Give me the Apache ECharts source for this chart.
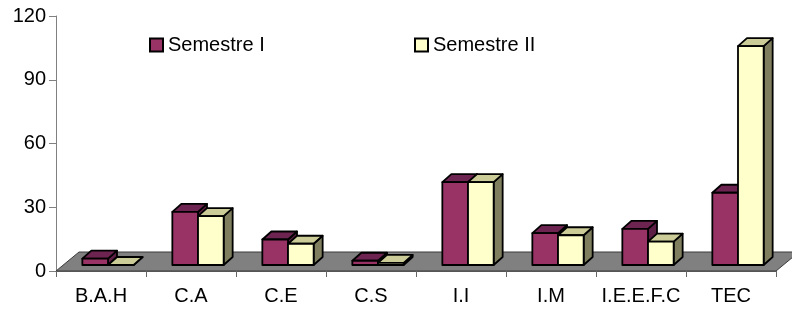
<!DOCTYPE html>
<html>
<head>
<meta charset="utf-8">
<script src="https://cdn.jsdelivr.net/npm/echarts@6/dist/echarts.min.js"></script>
<style>
    html, body { margin: 0; padding: 0; background: #fff; }
    #J_chart { width: 792px; height: 311px; }
</style>
</head>
<body>
<div id="J_chart"></div>
<script>
const categories = ['B.A.H', 'C.A', 'C.E', 'C.S', 'I.I', 'I.M', 'I.E.E.F.C', 'TEC'];
const semestre1 = [3, 25, 12, 2, 39, 15, 17, 34];
const semestre2 = [0, 23, 10, 1, 39, 14, 11, 103];
const yTicks = [0, 30, 60, 90, 120];

const FONT = '"Liberation Sans", Arial, sans-serif';
// decalage "3D" des barres et du plancher (px)
const SHIFT_X = 7, SHIFT_Y = -6;
const DEPTH_X = 9, DEPTH_Y = -8;
const FLOOR_X = 23, FLOOR_Y = -19;

function toData(arr) {
    return arr.map((v, i) => [i, v]);
}

// barre en 3D : face, dessus, cote
function barRenderer(slot, face, top, side) {
    return function (params, api) {
        let idx = api.value(0);
        let base = api.coord([idx, 0]);
        let peak = api.coord([idx, api.value(1)]);
        let band = api.size([1, 0])[0];
        let w = band * 0.285;
        let x0 = base[0] - w + slot * w + SHIFT_X;
        let x1 = x0 + w;
        let yb = base[1] + SHIFT_Y;
        let yt = peak[1] + SHIFT_Y;
        let line = {stroke: '#000', lineWidth: 1.8, lineJoin: 'round'};
        return {
            type: 'group',
            children: [{
                type: 'polygon',
                shape: {points: [[x1, yb], [x1 + DEPTH_X, yb + DEPTH_Y], [x1 + DEPTH_X, yt + DEPTH_Y], [x1, yt]]},
                style: Object.assign({fill: side}, line)
            }, {
                type: 'polygon',
                shape: {points: [[x0, yt], [x1, yt], [x1 + DEPTH_X, yt + DEPTH_Y], [x0 + DEPTH_X, yt + DEPTH_Y]]},
                style: Object.assign({fill: top}, line)
            }, {
                type: 'rect',
                shape: {x: x0, y: yt, width: w, height: yb - yt},
                style: Object.assign({fill: face}, line)
            }]
        };
    };
}

function floorRenderer(params, api) {
    let cs = params.coordSys;
    let y0 = cs.y + cs.height;
    let xa = cs.x, xb = cs.x + cs.width;
    return {
        type: 'polygon',
        shape: {points: [[xa, y0], [xb, y0], [xb + FLOOR_X, y0 + FLOOR_Y], [xa + FLOOR_X, y0 + FLOOR_Y]]},
        style: {fill: '#808080', stroke: '#3a3a3a', lineWidth: 1}
    };
}

let legendText = {fontFamily: FONT, fontSize: 20, color: '#000'};

let options = {
    animation: false,
    grid: {
        left: 56,
        right: 16,
        top: 16,
        bottom: 40
    },
    legend: [{
        data: ['Semestre I'],
        left: 144,
        top: 30,
        icon: 'rect',
        itemWidth: 13,
        itemHeight: 13,
        itemGap: 7,
        textStyle: legendText
    }, {
        data: ['Semestre II'],
        left: 409,
        top: 30,
        icon: 'rect',
        itemWidth: 13,
        itemHeight: 13,
        itemGap: 7,
        textStyle: legendText
    }],
    xAxis: {
        type: 'category',
        data: categories,
        boundaryGap: true,
        axisLine: {show: true, lineStyle: {color: '#555', width: 1}},
        axisTick: {show: true, length: 6, lineStyle: {color: '#666'}},
        axisLabel: {
            interval: 0,
            margin: 15,
            fontFamily: FONT,
            fontSize: 20,
            color: '#000'
        },
        z: 10
    },
    yAxis: {
        type: 'value',
        min: yTicks[0],
        max: yTicks[yTicks.length - 1],
        interval: 30,
        axisLine: {show: true, lineStyle: {color: '#808080', width: 1}},
        axisTick: {show: true, length: 7, lineStyle: {color: '#808080'}},
        splitLine: {show: false},
        axisLabel: {
            margin: 10,
            fontFamily: FONT,
            fontSize: 20,
            color: '#000'
        }
    },
    series: [{
        type: 'custom',
        name: 'floor',
        renderItem: floorRenderer,
        data: [[0, 0]],
        silent: true,
        z: 1
    }, {
        type: 'custom',
        name: 'Semestre I',
        renderItem: barRenderer(0, '#993366', '#6e2450', '#5c1e44'),
        encode: {x: 0, y: 1},
        data: toData(semestre1),
        itemStyle: {color: '#993366', borderColor: '#000', borderWidth: 1.2},
        z: 2
    }, {
        type: 'custom',
        name: 'Semestre II',
        renderItem: barRenderer(1, '#ffffcc', '#cccc99', '#7f7f60'),
        encode: {x: 0, y: 1},
        data: toData(semestre2),
        itemStyle: {color: '#ffffcc', borderColor: '#000', borderWidth: 1.2},
        z: 3
    }]
};

let chart = echarts.init(document.getElementById('J_chart'));
chart.setOption(options);
</script>
</body>
</html>
